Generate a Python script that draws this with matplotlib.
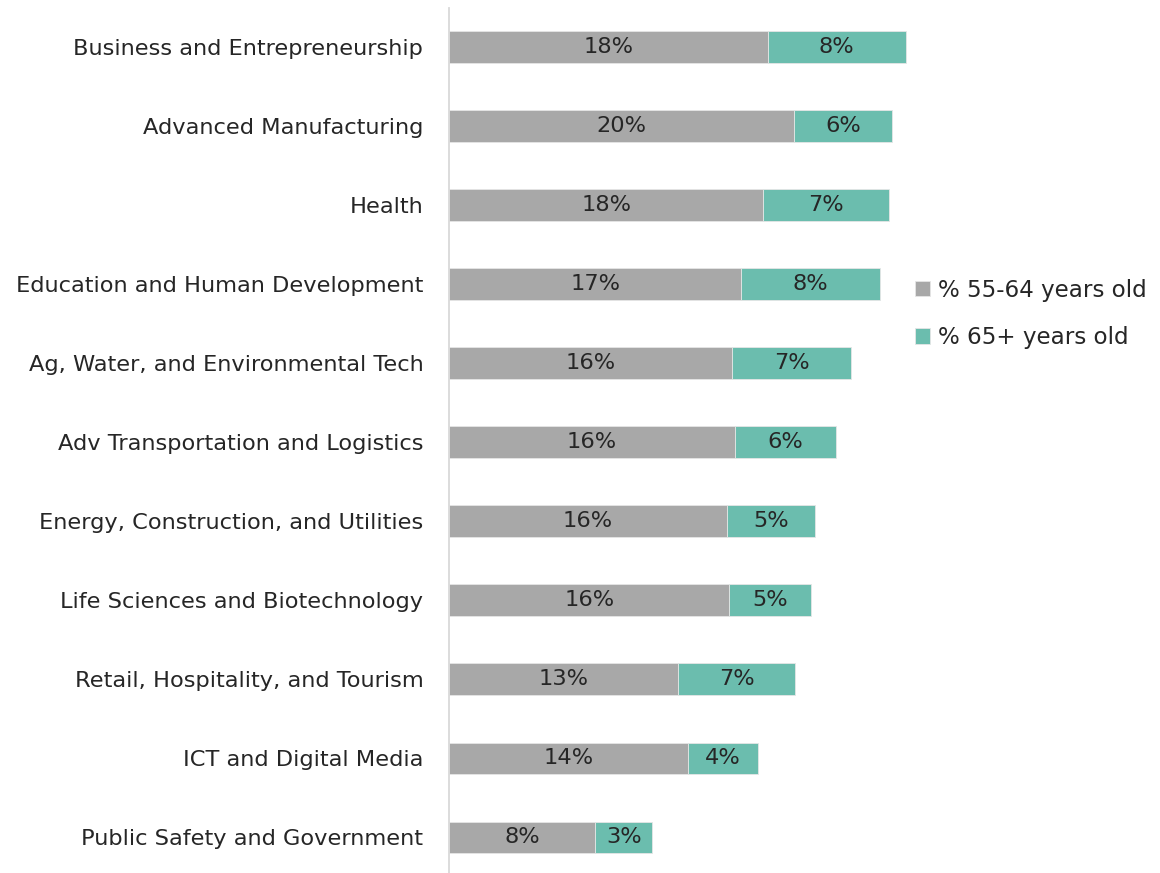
import matplotlib
matplotlib.use("Agg")
import matplotlib.pyplot as plt
import numpy as np

plt.rcParams['font.family'] = ['DejaVu Sans']

categories = [
    "Business and Entrepreneurship",
    "Advanced Manufacturing",
    "Health",
    "Education and Human Development",
    "Ag, Water, and Environmental Tech",
    "Adv Transportation and Logistics",
    "Energy, Construction, and Utilities",
    "Life Sciences and Biotechnology",
    "Retail, Hospitality, and Tourism",
    "ICT and Digital Media",
    "Public Safety and Government",
]
pct_55_64 = [18.33, 19.83, 18.06, 16.80, 16.26, 16.45, 15.99, 16.11, 13.16, 13.74, 8.41]
pct_65_plus = [7.91, 5.61, 7.21, 7.97, 6.86, 5.77, 5.02, 4.70, 6.74, 4.01, 3.28]
series_names = ["% 55-64 years old", "% 65+ years old"]

gray = "#A8A8A8"
teal = "#6BBDAE"
txt = "#262626"

fig = plt.figure(figsize=(11.6, 8.73), dpi=100)
W, H = 1160, 873
ax = fig.add_axes([449 / W, 0, (27 * 17.4) / W, 865 / H])

y = np.arange(len(categories))
b1 = ax.barh(y, pct_55_64, height=0.40, color=gray, edgecolor="#e6e6e6", linewidth=0.6, label=series_names[0])
b2 = ax.barh(y, pct_65_plus, left=pct_55_64, height=0.40, color=teal, edgecolor="#e6e6e6", linewidth=0.6, label=series_names[1])

fs = 16.2
ax.bar_label(b1, labels=[f"{v:.0f}%" for v in pct_55_64], label_type="center", fontsize=fs, color=txt)
ax.bar_label(b2, labels=[f"{v:.0f}%" for v in pct_65_plus], label_type="center", fontsize=fs, color=txt)

ax.set_xlim(0, 27)
ax.set_ylim(len(categories) - 1 + 0.45, -0.49)
ax.set_yticks(y)
ax.set_yticklabels(categories, fontsize=fs, color=txt)
ax.set_xticks([])
ax.tick_params(axis="y", length=0, pad=18.5)
for s in ["top", "right", "bottom"]:
    ax.spines[s].set_visible(False)
ax.spines["left"].set_color("#d9d9d9")
ax.spines["left"].set_linewidth(1.3)

fig.legend(handles=[b1, b2], labels=series_names, loc="upper left",
           bbox_to_anchor=(894 / W, 1 - 258 / H), frameon=False, fontsize=16.6,
           handlelength=0.65, handleheight=0.65, handletextpad=0.35, labelspacing=1.05,
           labelcolor=txt)

fig.savefig("out.png", dpi=100)
